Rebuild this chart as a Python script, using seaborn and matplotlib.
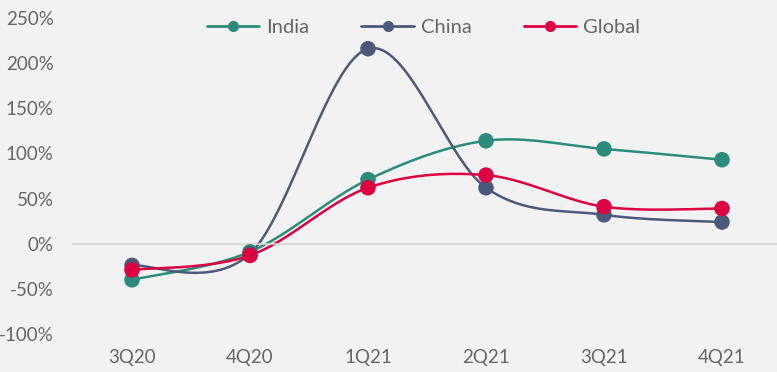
import numpy as np
import pandas as pd
import matplotlib
matplotlib.use("Agg")
import matplotlib.pyplot as plt
from matplotlib.lines import Line2D
import seaborn as sns

QUARTERS = ["3Q20", "4Q20", "1Q21", "2Q21", "3Q21", "4Q21"]
INDIA = [-40, -9, 71, 114, 105, 93]
CHINA = [-24, -11, 216, 62, 32, 24]
GLOBAL = [-29, -13, 62, 76, 41, 39]

SERIES = ["India", "China", "Global"]
COLORS = {"India": "#2b8c7c", "China": "#4b5a7a", "Global": "#dc0042"}
TEXT_GREY = "#666666"
BG = "#f2f2f2"


def smooth_curve(xs, ys, n=40):
    # Excel-style smoothed line: cubic bezier with catmull-rom control points
    pts = np.column_stack([xs, ys]).astype(float)
    padded = np.vstack([pts[0], pts, pts[-1]])
    out = []
    t = np.linspace(0, 1, n)[:, None]
    for i in range(1, len(padded) - 2):
        p0, p1, p2, p3 = padded[i - 1], padded[i], padded[i + 1], padded[i + 2]
        c1 = p1 + (p2 - p0) / 6
        c2 = p2 - (p3 - p1) / 6
        seg = ((1 - t) ** 3) * p1 + 3 * ((1 - t) ** 2) * t * c1 + 3 * (1 - t) * t ** 2 * c2 + t ** 3 * p2
        out.append(seg if i == 1 else seg[1:])
    curve = np.vstack(out)
    return curve[:, 0], curve[:, 1]


df = pd.DataFrame({
    "quarter": QUARTERS * 3,
    "pos": list(range(len(QUARTERS))) * 3,
    "region": [s for s in SERIES for _ in QUARTERS],
    "value": INDIA + CHINA + GLOBAL,
})

sns.set_theme(style="white")
plt.rcParams["font.family"] = ["Lato", "DejaVu Sans"]

fig = plt.figure(figsize=(7.77, 3.72), dpi=100, facecolor=BG)
ax = fig.add_axes([73 / 777, 38 / 372, 708 / 777, 316 / 372])
ax.set_facecolor(BG)

for name in SERIES:
    sub = df[df["region"] == name]
    cx, cy = smooth_curve(sub["pos"].values, sub["value"].values)
    ax.plot(cx, cy, color=COLORS[name], lw=1.8, zorder=2)
    sns.scatterplot(x=sub["pos"], y=sub["value"], color=COLORS[name], s=125,
                    edgecolor="none", ax=ax, zorder=3, legend=False)

ax.set_xlim(-0.5, 5.5)
ax.set_ylim(-100, 250)
ax.set_yticks(np.arange(-100, 251, 50))
ax.set_yticklabels([f"{v}%" for v in range(-100, 251, 50)])
ax.set_xticks(range(len(QUARTERS)))
ax.set_xticklabels(QUARTERS)
ax.set_xticks(np.arange(-0.5, 5.6, 1), minor=True)
ax.set_xlabel("")
ax.set_ylabel("")

for side in ["top", "right", "left"]:
    ax.spines[side].set_visible(False)
ax.spines["bottom"].set_position(("data", 0))
ax.spines["bottom"].set_color("#d4d4d4")
ax.spines["bottom"].set_linewidth(1.2)

ax.tick_params(axis="x", which="major", length=0, pad=76, labelsize=13.5, labelcolor=TEXT_GREY)
ax.tick_params(axis="x", which="minor", length=5, width=1.2, color="#d4d4d4", direction="out")
ax.tick_params(axis="y", length=0, pad=14, labelsize=13.5, labelcolor=TEXT_GREY)

handles = [Line2D([0], [0], color=COLORS[s], lw=2, marker="o", markersize=7) for s in SERIES]
fig.legend(handles, SERIES, loc="center", bbox_to_anchor=(0.545, 0.925), ncol=3,
           frameon=False, fontsize=14.5, labelcolor=TEXT_GREY, handlelength=2.6,
           columnspacing=2.6, handletextpad=0.35)

fig.savefig("out.png", dpi=100, facecolor=BG)
